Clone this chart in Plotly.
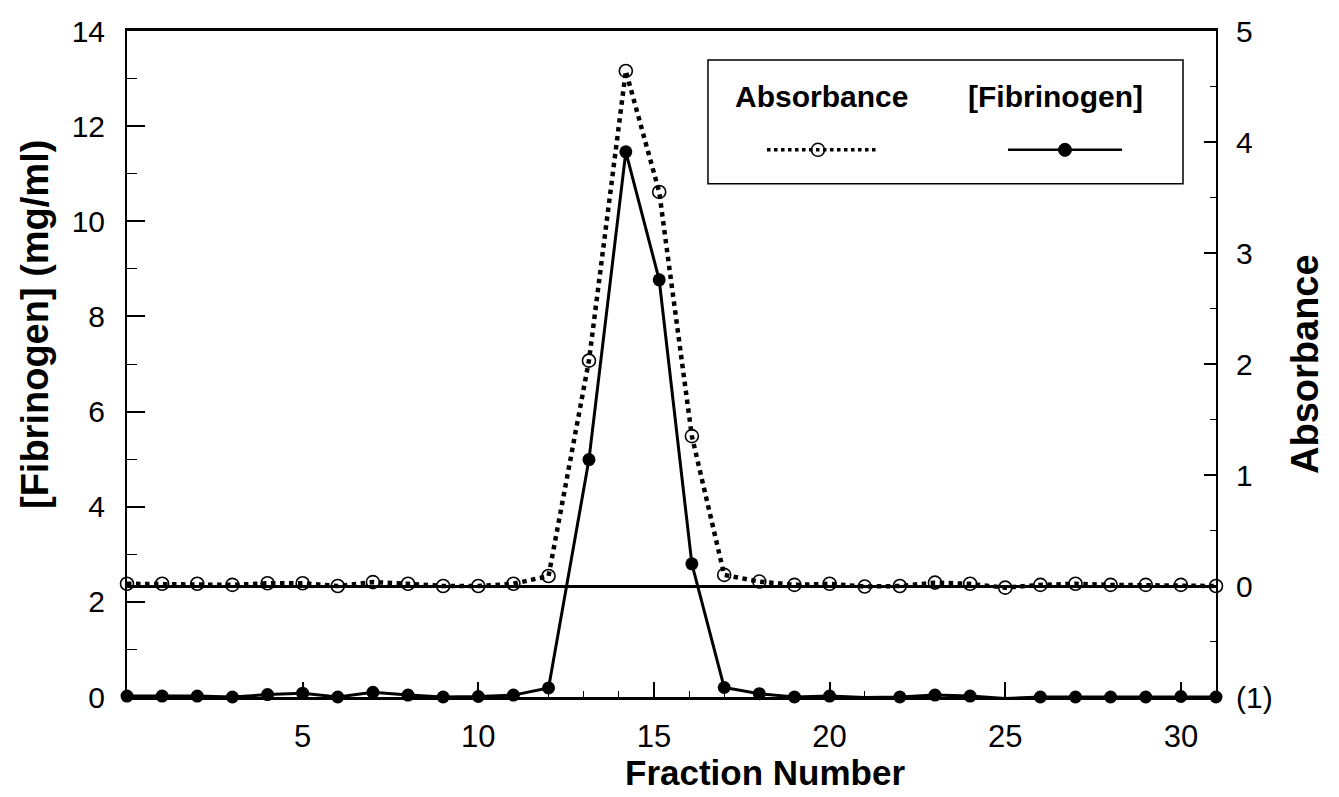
import plotly.graph_objects as go

# ---- data ----
fractions = list(range(0, 13)) + [13.15, 14.2, 15.15, 16.08] + list(range(17, 32))
fibrinogen = [0.02, 0.02, 0.02, 0.0, 0.05, 0.08, 0.0, 0.1, 0.04, 0.0, 0.01, 0.04,
              0.19, 4.99, 11.46, 8.77, 2.8, 0.2, 0.07, 0.0, 0.02, -0.01, 0.0, 0.04,
              0.02, -0.03, 0.0, 0.0, 0.0, 0.0, 0.01, 0.0]
absorbance = [0.02, 0.02, 0.02, 0.01, 0.025, 0.025, 0.0, 0.035, 0.02, 0.0, 0.0, 0.02,
              0.09, 2.03, 4.64, 3.55, 1.35, 0.1, 0.04, 0.01, 0.02, -0.005, 0.0, 0.03,
              0.02, -0.015, 0.01, 0.02, 0.01, 0.01, 0.01, 0.0]

x_ticks = [5, 10, 15, 20, 25, 30]
left_ticks = [0, 2, 4, 6, 8, 10, 12, 14]
right_ticks = [-1, 0, 1, 2, 3, 4, 5]
right_ticktext = ["(1)", "0", "1", "2", "3", "4", "5"]
left_minor = [1, 3, 5, 7, 9, 11, 13]
right_minor = [-0.5, 0.5, 1.5, 2.5, 3.5, 4.5]
x_minor = [v for v in range(1, 31) if v % 5 != 0]

FONT = "Liberation Sans, Arial, sans-serif"

fig = go.Figure()
fig.add_trace(go.Scatter(
    x=fractions, y=absorbance, yaxis="y2", mode="lines+markers", name="Absorbance",
    line=dict(color="black", width=4.5, dash="dot"),
    marker=dict(symbol="circle-open", size=13, color="black", line=dict(width=1.6)),
    cliponaxis=False, showlegend=False))
fig.add_trace(go.Scatter(
    x=fractions, y=fibrinogen, mode="lines+markers", name="[Fibrinogen]",
    line=dict(color="black", width=3),
    marker=dict(symbol="circle", size=13, color="black"),
    cliponaxis=False, showlegend=False))

fig.update_layout(
    width=1339, height=797,
    margin=dict(l=127, r=123, t=31, b=100),
    paper_bgcolor="white", plot_bgcolor="white",
    font=dict(family=FONT, color="black"),
    xaxis=dict(range=[0, 31], tickmode="array", tickvals=x_ticks,
               ticks="inside", ticklen=15, tickwidth=1.5, tickcolor="black",
               minor=dict(tickvals=x_minor, ticks="inside", ticklen=6, tickcolor="black", tickwidth=1),
               showline=True, linecolor="black", linewidth=2.5, mirror=True,
               showgrid=False, zeroline=False,
               tickfont=dict(size=31, family=FONT), ticklabelstandoff=10),
    yaxis=dict(range=[0, 14], tickmode="array", tickvals=left_ticks,
               ticks="inside", ticklen=18, tickwidth=1.5, tickcolor="black",
               minor=dict(tickvals=left_minor, ticks="inside", ticklen=10, tickcolor="black", tickwidth=1),
               showline=True, linecolor="black", linewidth=2,
               showgrid=False, zeroline=False,
               tickfont=dict(size=30, family=FONT), ticklabelstandoff=14),
    yaxis2=dict(range=[-1, 5], overlaying="y", side="right", tickmode="array",
                tickvals=right_ticks, ticktext=right_ticktext,
                ticks="inside", ticklen=12, tickwidth=1.5, tickcolor="black",
                minor=dict(tickvals=right_minor, ticks="inside", ticklen=6, tickcolor="black", tickwidth=1),
                showline=True, linecolor="black", linewidth=2,
                showgrid=False, zeroline=True, zerolinecolor="black", zerolinewidth=3,
                tickfont=dict(size=30, family=FONT), ticklabelstandoff=12),
)

# axis titles
title_font = dict(family=FONT, size=38, color="black", weight="bold")
fig.add_annotation(text="Fraction Number", xref="paper", yref="paper",
                   x=0.5855, y=-0.114, xanchor="center", yanchor="middle",
                   showarrow=False, font=dict(family=FONT, size=35, color="black", weight="bold"))
fig.add_annotation(text="[Fibrinogen] (mg/ml)", xref="paper", yref="paper",
                   x=-0.0845, y=0.56, xanchor="center", yanchor="middle",
                   textangle=-90, showarrow=False, font=title_font)
fig.add_annotation(text="Absorbance", xref="paper", yref="paper",
                   x=1.0817, y=0.50, xanchor="center", yanchor="middle",
                   textangle=-90, showarrow=False, font=title_font)

# hand-drawn legend box
fig.add_shape(type="rect", xref="paper", yref="paper", x0=0.5335, x1=0.9697,
              y0=0.7706, y1=0.9565, line=dict(color="black", width=1.5), fillcolor="white")
leg_font = dict(family=FONT, size=30, color="black", weight="bold")
fig.add_annotation(text="Absorbance", xref="paper", yref="paper", x=0.638, y=0.901,
                   xanchor="center", yanchor="middle", showarrow=False, font=leg_font)
fig.add_annotation(text="[Fibrinogen]", xref="paper", yref="paper", x=0.853, y=0.901,
                   xanchor="center", yanchor="middle", showarrow=False, font=leg_font)
fig.add_shape(type="line", xref="paper", yref="paper", x0=0.5877, x1=0.6887,
              y0=0.8216, y1=0.8216, line=dict(color="black", width=3.5, dash="dot"))
fig.add_shape(type="circle", xref="paper", yref="paper", xsizemode="pixel", ysizemode="pixel",
              xanchor=0.6345, yanchor=0.8216, x0=-6.5, x1=6.5, y0=-6.5, y1=6.5,
              line=dict(color="black", width=1.5), fillcolor="rgba(0,0,0,0)")
fig.add_shape(type="line", xref="paper", yref="paper", x0=0.809, x1=0.9137,
              y0=0.8216, y1=0.8216, line=dict(color="black", width=2.5))
fig.add_shape(type="circle", xref="paper", yref="paper", xsizemode="pixel", ysizemode="pixel",
              xanchor=0.8613, yanchor=0.8216, x0=-6.5, x1=6.5, y0=-6.5, y1=6.5,
              line=dict(color="black", width=1), fillcolor="black")

fig.write_html("out.html")
